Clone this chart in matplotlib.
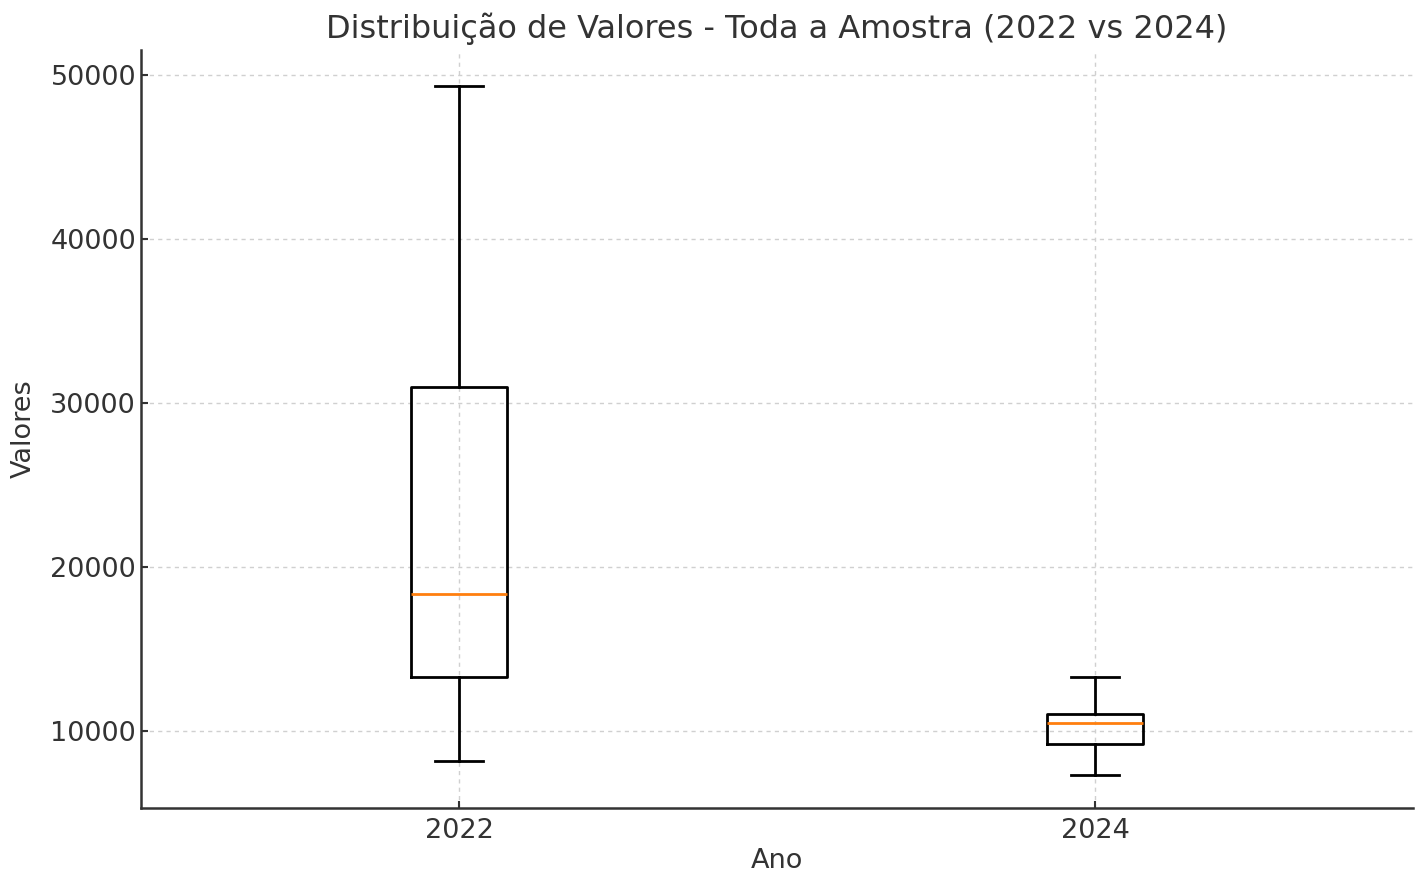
import matplotlib
matplotlib.use('Agg')
from matplotlib import pyplot as plt

# box statistics
years = ['2022', '2024']
whislo = [8170, 7320]
q1 = [13290, 9210]
med = [18350, 10490]
q3 = [30980, 11040]
whishi = [49330, 13290]

stats = []
for i in range(len(years)):
    stats.append({'label': years[i], 'whislo': whislo[i], 'q1': q1[i],
                  'med': med[i], 'q3': q3[i], 'whishi': whishi[i], 'fliers': []})

text_color = '#333333'
plt.rcParams['font.family'] = 'DejaVu Sans'

fig = plt.figure(figsize=(14.21, 8.8), dpi=100)
ax = fig.add_axes([0.0992, 0.0818, 0.8952, 0.8612])

box_kw = dict(color='black', linewidth=2)
ax.bxp(stats, positions=[1, 2], widths=0.15,
       boxprops=box_kw, whiskerprops=box_kw, capprops=box_kw,
       medianprops=dict(color='#ff7f0e', linewidth=2))

ax.set_xlim(0.5, 2.5)
ax.set_ylim(5300, 51500)
ax.set_yticks([10000, 20000, 30000, 40000, 50000])

ax.set_title('Distribuição de Valores - Toda a Amostra (2022 vs 2024)',
             fontsize=23, color=text_color, pad=9)
ax.set_xlabel('Ano', fontsize=19.5, color=text_color, labelpad=3)
ax.set_ylabel('Valores', fontsize=19.5, color=text_color, labelpad=10)
ax.tick_params(axis='both', labelsize=19.5, labelcolor=text_color,
               direction='in', length=5, width=1.5, color='#333333')
ax.tick_params(axis='x', pad=7)
ax.grid(True, linestyle=(0, (3, 3)), color='#d0d0d0', linewidth=1)
ax.set_axisbelow(True)
for side in ['top', 'right']:
    ax.spines[side].set_visible(False)
for side in ['left', 'bottom']:
    ax.spines[side].set_linewidth(1.8)
    ax.spines[side].set_color('#333333')

fig.savefig('out.png', dpi=100)
